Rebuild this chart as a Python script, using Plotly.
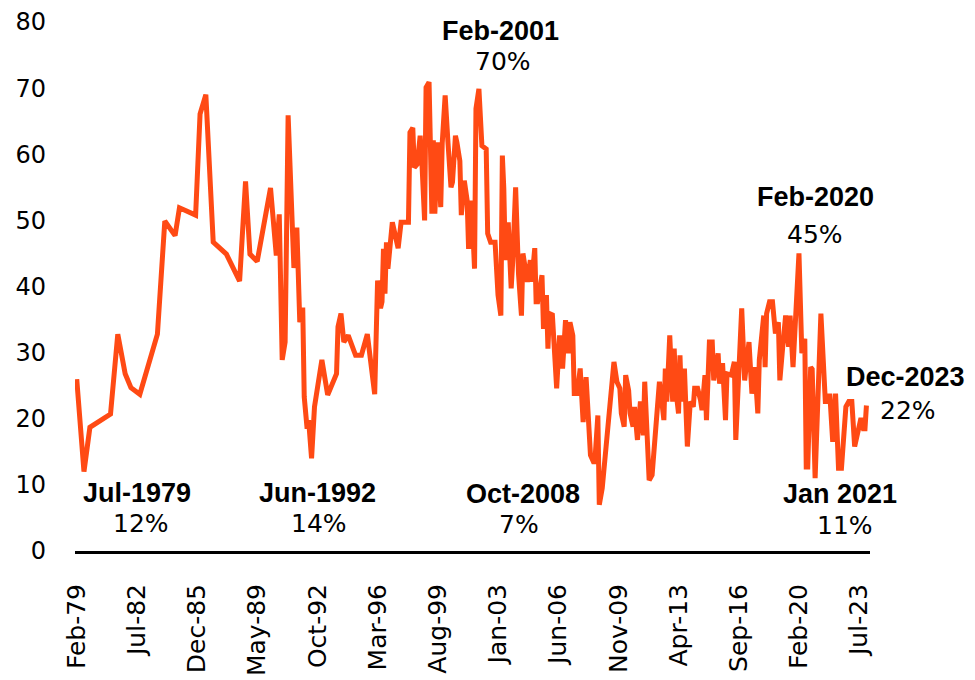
import plotly.graph_objects as go

# ---- data ----
dates = [
    "1979-02", "1979-07", "1979-11", "1981-01", "1981-06", "1981-11", "1982-03", "1982-09",
    "1983-09", "1984-02", "1984-09", "1984-12", "1985-11", "1986-02", "1986-06", "1986-11",
    "1987-08", "1988-05", "1988-09", "1988-12", "1989-05", "1990-02", "1990-06", "1990-08",
    "1990-10", "1990-12", "1991-02", "1991-04", "1991-06", "1991-08", "1991-10", "1991-12",
    "1992-01", "1992-03", "1992-04", "1992-06", "1992-08", "1993-01", "1993-05", "1993-11",
    "1993-12", "1994-02", "1994-04", "1994-07", "1994-12", "1995-04", "1995-08", "1996-01",
    "1996-03", "1996-05", "1996-06", "1996-07", "1996-08", "1996-09", "1996-10", "1997-01",
    "1997-04", "1997-05", "1997-07", "1997-12", "1998-01", "1998-03", "1998-04", "1998-06",
    "1998-08", "1998-09", "1998-11", "1998-12", "1999-02", "1999-04", "1999-05", "1999-06",
    "1999-08", "1999-10", "1999-11", "2000-01", "2000-03", "2000-05", "2000-06", "2000-08",
    "2000-09", "2000-11", "2000-12", "2001-02", "2001-04", "2001-05", "2001-07", "2001-09",
    "2001-10", "2001-12", "2002-02", "2002-05", "2002-06", "2002-08", "2002-11", "2003-01",
    "2003-03", "2003-04", "2003-05", "2003-06", "2003-08", "2003-10", "2003-11", "2004-01",
    "2004-03", "2004-05", "2004-06", "2004-08", "2004-09", "2004-11", "2004-12", "2005-02",
    "2005-03", "2005-04", "2005-07", "2005-08", "2005-10", "2005-11", "2005-12", "2006-02",
    "2006-05", "2006-07", "2006-09", "2006-11", "2007-01", "2007-02", "2007-04", "2007-05",
    "2007-07", "2007-09", "2007-11", "2008-01", "2008-03", "2008-04", "2008-06", "2008-07",
    "2008-09", "2008-10", "2008-12", "2009-08", "2009-10", "2009-12", "2010-01", "2010-03",
    "2010-04", "2010-06", "2010-07", "2010-09", "2010-10", "2010-12", "2011-02", "2011-04",
    "2011-05", "2011-08", "2011-10", "2012-03", "2012-04", "2012-06", "2012-07", "2012-08",
    "2012-10", "2012-12", "2013-01", "2013-02", "2013-04", "2013-05", "2013-06", "2013-08",
    "2013-09", "2013-10", "2013-12", "2014-02", "2014-03", "2014-05", "2014-07", "2014-08",
    "2014-10", "2014-11", "2015-01", "2015-03", "2015-04", "2015-06", "2015-07", "2015-08",
    "2015-10", "2015-12", "2016-01", "2016-04", "2016-06", "2016-07", "2016-09", "2016-11",
    "2017-01", "2017-03", "2017-04", "2017-06", "2017-08", "2017-10", "2017-11", "2018-02",
    "2018-03", "2018-04", "2018-06", "2018-08", "2018-10", "2018-12", "2019-01", "2019-03",
    "2019-05", "2019-07", "2019-08", "2019-10", "2019-11", "2020-02", "2020-04", "2020-06",
    "2020-07", "2020-08", "2020-10", "2020-11", "2021-01", "2021-03", "2021-05", "2021-08",
    "2021-10", "2021-11", "2022-01", "2022-03", "2022-04", "2022-05", "2022-07", "2022-09",
    "2022-10", "2022-12", "2023-02", "2023-04", "2023-06", "2023-08", "2023-09", "2023-10",
    "2023-11", "2023-12",
]
values = [
    26, 12, 18.7, 20.7, 32.8, 26.8, 24.7, 23.7,
    32.8, 49.9, 47.7, 51.9, 50.8, 66.1, 69, 46.7,
    44.9, 40.8, 55.9, 44.9, 43.8, 54.9, 44.7, 50.9,
    28.9, 31.6, 65.9, 51.5, 42.8, 48.9, 34.6, 36.8,
    23.3, 18.5, 19.8, 14, 21.8, 28.9, 23.6, 26.8,
    33.9, 35.9, 31.6, 32.6, 29.6, 29.6, 32.8, 23.7,
    40.9, 36.7, 37.7, 45.7, 38.9, 46.7, 42.7, 49.7,
    47.3, 45.8, 49.7, 49.7, 63.3, 64, 58, 58.5,
    62.8, 59.5, 50, 70.1, 70.9, 51, 62.1, 51,
    61.8, 52, 61.6, 68.9, 61.6, 55, 55.8, 62.8,
    61.8, 59, 50.8, 56, 53, 45.7, 53, 42.7,
    66.9, 69.9, 61.3, 60.8, 48, 46.7, 46.7, 38.7,
    35.6, 59.8, 54.8, 44, 49.7, 39.7, 43.7, 55,
    41.9, 35.6, 45, 41.9, 40.7, 44, 40.7, 45.8,
    37.7, 37.7, 41.7, 33.6, 38.7, 30.6, 35.9, 35.7,
    24.6, 32.6, 27.6, 34.9, 29.9, 34.6, 32.6, 23.8,
    23.8, 27.6, 19.5, 26.3, 19.5, 14.5, 13.5, 13.5,
    20.5, 7, 9.5, 28.6, 25.6, 24.6, 20.8, 18.8,
    26.6, 24.3, 20.8, 18.8, 21.8, 16.8, 22.6, 17.5,
    25.6, 10.7, 11.5, 25.6, 23.8, 19.8, 27.6, 22.6,
    32.6, 22.6, 30.6, 24.6, 20.8, 29.6, 22.6, 27.6,
    21.6, 15.8, 22.6, 21.8, 24.6, 24.6, 22.8, 21.3,
    26.6, 19.8, 31.6, 31.6, 25.8, 29.4, 29.9, 25.3,
    28.4, 19.8, 26.8, 26.6, 28.6, 16.8, 28.9, 36.7,
    25.8, 28.9, 31.6, 23.8, 27.8, 20.8, 28.9, 35.6,
    27.8, 35.9, 37.7, 37.7, 32.9, 34.6, 25.8, 30.9,
    35.6, 30.9, 35.6, 27.8, 32.4, 45, 29.9, 32.1,
    12.7, 12.7, 27.8, 27.5, 11, 23.3, 35.9, 22.6,
    22.6, 23.8, 16.5, 23.8, 19, 12.5, 12.5, 20.5,
    21.8, 22.6, 22.6, 15.8, 17.8, 19.8, 19.8, 18.5,
    18.5, 22,
]

tick_dates = ["1979-02-01", "1982-07-01", "1985-12-01", "1989-05-01", "1992-10-01",
              "1996-03-01", "1999-08-01", "2003-01-01", "2006-06-01", "2009-11-01",
              "2013-04-01", "2016-09-01", "2020-02-01", "2023-07-01"]
tick_labels = ["Feb-79", "Jul-82", "Dec-85", "May-89", "Oct-92", "Mar-96", "Aug-99",
               "Jan-03", "Jun-06", "Nov-09", "Apr-13", "Sep-16", "Feb-20", "Jul-23"]

callout_titles = ["Feb-2001", "Jul-1979", "Jun-1992", "Oct-2008", "Feb-2020", "Jan 2021", "Dec-2023"]
callout_values = ["70%", "12%", "14%", "7%", "45%", "11%", "22%"]

# ---- layout geometry (screen pixels; the page body adds an 8 px offset) ----
OFF = 8
W, H = 975 - OFF, 680 - OFF
L, R, T, B = 75, 870, 22, 551          # plot area in screen pixels

title_pos = [(500, 31), (137, 493), (317, 493), (523, 494), (815, 197), (840, 494), (905, 377)]
value_pos = [(503, 61), (141, 523), (319, 523), (519, 524), (815, 234), (845, 525), (908, 410)]


def px(x):
    return (x - L) / (R - L)


def py(y):
    return (B - y) / (B - T)


LINE = "#FF4A14"

fig = go.Figure()
fig.add_trace(go.Scatter(
    x=dates, y=values, mode="lines",
    line=dict(color=LINE, width=5),
    hoverinfo="skip", showlegend=False,
))

annotations = []
for txt, (x, y) in zip(callout_titles, title_pos):
    annotations.append(dict(
        text="<b>" + txt + "</b>", x=px(x), y=py(y), xref="paper", yref="paper",
        xanchor="center", yanchor="middle", showarrow=False, borderpad=0,
        font=dict(family="Liberation Sans, Arial", size=27, color="black"),
    ))
for txt, (x, y) in zip(callout_values, value_pos):
    annotations.append(dict(
        text=txt, x=px(x), y=py(y), xref="paper", yref="paper",
        xanchor="center", yanchor="middle", showarrow=False, borderpad=0,
        font=dict(family="DejaVu Sans", size=25, color="black"),
    ))

fig.update_layout(
    width=W, height=H,
    margin=dict(l=L - OFF, r=W - (R - OFF), t=T - OFF, b=H - (B - OFF), pad=0, autoexpand=False),
    paper_bgcolor="white", plot_bgcolor="white",
    annotations=annotations,
    xaxis=dict(
        type="date", automargin=False,
        range=["1978-12-27", "2024-02-13"],
        tickmode="array", tickvals=tick_dates, ticktext=tick_labels,
        tickangle=-90,
        tickfont=dict(family="DejaVu Sans", size=25, color="black"),
        showgrid=False, zeroline=False,
        showline=True, linecolor="black", linewidth=3,
        ticks="", ticklabelstandoff=20,
    ),
    yaxis=dict(
        range=[0, 80], automargin=False,
        tickmode="array", tickvals=list(range(0, 81, 10)),
        tickfont=dict(family="DejaVu Sans", size=24, color="black"),
        showgrid=False, zeroline=False, showline=False,
        ticks="", ticklabelstandoff=28,
    ),
)

fig.write_html("out.html")
